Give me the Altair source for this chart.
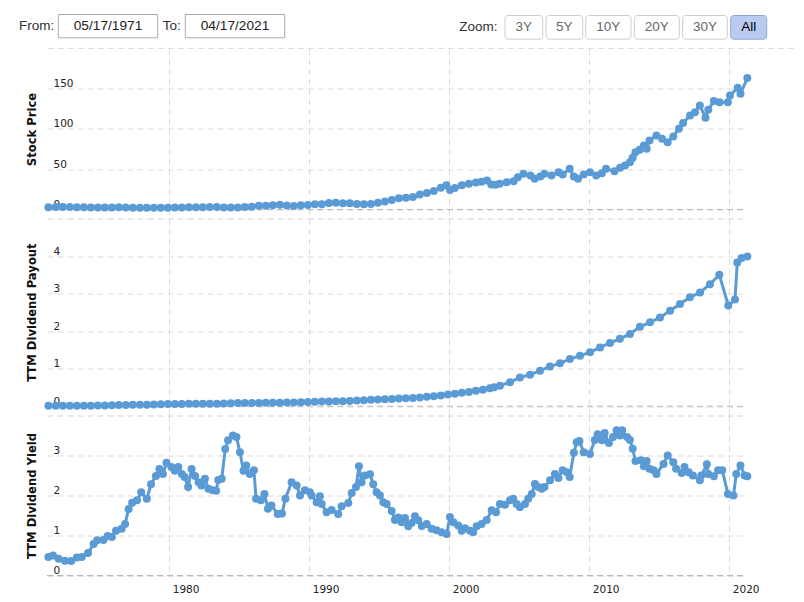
import altair as alt
import pandas as pd

# ---------------- data ----------------
PRICE_YEARS = [1971.37, 1971.9, 1972.4, 1972.9, 1973.4, 1973.9, 1974.4, 1974.9, 1975.4, 1975.9,
               1976.4, 1976.9, 1977.4, 1977.9, 1978.4, 1978.9, 1979.4, 1979.9, 1980.4, 1980.9,
               1981.4, 1981.9, 1982.4, 1982.9, 1983.4, 1983.9, 1984.4, 1984.9, 1985.4, 1985.9,
               1986.4, 1986.9, 1987.4, 1987.9, 1988.4, 1988.9, 1989.4, 1989.9, 1990.4, 1990.9,
               1991.4, 1991.9, 1992.4, 1992.9, 1993.4, 1993.9, 1994.4, 1994.9, 1995.4, 1995.9,
               1996.4, 1996.9, 1997.4, 1997.9, 1998.4, 1998.9, 1999.4, 1999.8, 2000.05, 2000.4,
               2000.9, 2001.4, 2001.9, 2002.3, 2002.7, 2003.0, 2003.3, 2003.6, 2004.1, 2004.6,
               2004.9, 2005.3, 2005.8, 2006.1, 2006.5, 2006.8, 2007.3, 2007.8, 2008.1, 2008.6,
               2008.9, 2009.2, 2009.6, 2010.05, 2010.5, 2010.9, 2011.2, 2011.8, 2012.2, 2012.55,
               2012.9, 2013.1, 2013.3, 2013.6, 2013.9, 2014.1, 2014.3, 2014.8, 2015.2, 2015.6,
               2016.0, 2016.4, 2016.7, 2017.2, 2017.55, 2017.9, 2018.3, 2018.5, 2018.9, 2019.3,
               2019.9, 2020.05, 2020.6, 2020.8, 2021.29]
PRICE = [2.9, 3.0, 3.1, 3.2, 2.9, 2.8, 2.5, 2.3, 2.4, 2.5,
         2.6, 2.3, 2.0, 2.0, 2.1, 2.1, 2.1, 2.1, 2.3, 2.4,
         2.8, 2.6, 2.8, 3.1, 3.0, 2.4, 2.4, 2.5, 3.2, 3.4,
         4.6, 4.5, 5.3, 5.9, 5.0, 4.4, 5.3, 5.5, 6.5, 6.6,
         7.9, 8.3, 7.8, 7.6, 6.9, 6.5, 6.8, 8.4, 9.9, 11.6,
         14.0, 14.6, 15.5, 18.5, 20.5, 23.0, 27.0, 30.0, 24.0, 26.5,
         30.0, 32.0, 33.5, 34.5, 36.0, 31.0, 30.5, 31.9, 33.9, 35.1,
         40.1, 44.3, 42.2, 38.1, 40.9, 44.3, 42.2, 46.3, 43.4, 50.5,
         40.9, 38.1, 43.4, 46.3, 42.2, 45.0, 50.5, 47.5, 51.7, 54.6,
         58.7, 64.1, 71.1, 74.1, 79.4, 75.3, 85.6, 91.8, 87.7, 83.5,
         90.6, 100.1, 107.1, 116.6, 120.7, 129.0, 113.8, 123.7, 134.4, 133.1,
         133.1, 141.4, 151.0, 143.5, 162.9]

PAYOUT_YEARS = [1971.37, 1971.9, 1972.4, 1972.9, 1973.4, 1973.9, 1974.4, 1974.9, 1975.4, 1975.9,
                1976.4, 1976.9, 1977.4, 1977.9, 1978.4, 1978.9, 1979.4, 1979.9, 1980.4, 1980.9,
                1981.4, 1981.9, 1982.4, 1982.9, 1983.4, 1983.9, 1984.4, 1984.9, 1985.4, 1985.9,
                1986.4, 1986.9, 1987.4, 1987.9, 1988.4, 1988.9, 1989.4, 1989.9, 1990.4, 1990.9,
                1991.4, 1991.9, 1992.4, 1992.9, 1993.4, 1993.9, 1994.4, 1994.9, 1995.4, 1995.9,
                1996.4, 1996.9, 1997.4, 1997.9, 1998.4, 1998.9, 1999.4, 1999.9, 2000.4, 2000.9,
                2001.4, 2001.9, 2002.4, 2002.9, 2003.2, 2003.62, 2004.34, 2005.05, 2005.77, 2006.48,
                2007.19, 2007.91, 2008.62, 2009.34, 2010.05, 2010.77, 2011.48, 2012.19, 2012.91, 2013.62,
                2014.34, 2015.05, 2015.77, 2016.48, 2017.19, 2017.91, 2018.62, 2019.29, 2019.93, 2020.41,
                2020.57, 2020.88, 2021.29]
PAYOUT = [0.013, 0.013, 0.014, 0.014, 0.014, 0.014, 0.015, 0.019, 0.022, 0.025,
          0.030, 0.031, 0.036, 0.039, 0.041, 0.046, 0.054, 0.058, 0.061, 0.062,
          0.064, 0.066, 0.067, 0.068, 0.069, 0.074, 0.082, 0.086, 0.086, 0.088,
          0.089, 0.091, 0.093, 0.094, 0.096, 0.102, 0.107, 0.113, 0.119, 0.123,
          0.127, 0.131, 0.136, 0.141, 0.150, 0.160, 0.170, 0.178, 0.186, 0.194,
          0.203, 0.211, 0.222, 0.236, 0.252, 0.268, 0.287, 0.310, 0.335, 0.360,
          0.38, 0.41, 0.44, 0.48, 0.51, 0.55, 0.64, 0.77, 0.84, 0.95,
          1.06, 1.15, 1.26, 1.35, 1.44, 1.57, 1.69, 1.80, 1.93, 2.12,
          2.24, 2.37, 2.55, 2.73, 2.91, 3.04, 3.26, 3.51, 2.69, 2.85,
          3.84, 3.96, 4.00]

YIELD_YEARS = [1971.37, 1971.7, 1972.1, 1972.55, 1973.0, 1973.4, 1973.75, 1974.2, 1974.6, 1974.85,
               1975.3, 1975.6, 1975.9, 1976.2, 1976.6, 1976.85, 1977.1, 1977.35, 1977.7, 1978.0,
               1978.4, 1978.7, 1979.05, 1979.3, 1979.55, 1979.8, 1980.15, 1980.4, 1980.65, 1980.9,
               1981.1, 1981.35, 1981.6, 1981.85, 1982.1, 1982.3, 1982.55, 1982.8, 1983.1, 1983.35,
               1983.5, 1983.75, 1984.0, 1984.2, 1984.55, 1984.8, 1985.05, 1985.3, 1985.5, 1985.75,
               1986.05, 1986.2, 1986.55, 1986.8, 1987.05, 1987.3, 1987.75, 1988.05, 1988.3, 1988.74,
               1989.1, 1989.34, 1989.69, 1990.05, 1990.17, 1990.53, 1990.76, 1990.89, 1991.24, 1991.6,
               1992.07, 1992.31, 1992.79, 1993.03, 1993.34, 1993.55, 1993.74, 1993.98, 1994.34, 1994.57,
               1994.81, 1995.05, 1995.29, 1995.53, 1995.89, 1996.12, 1996.36, 1996.6, 1996.84, 1997.07,
               1997.31, 1997.55, 1997.79, 1998.03, 1998.39, 1998.74, 1999.1, 1999.46, 1999.81, 2000.05,
               2000.29, 2000.64, 2000.89, 2001.12, 2001.48, 2001.71, 2001.96, 2002.31, 2002.67, 2003.03,
               2003.34, 2003.62, 2003.98, 2004.34, 2004.57, 2004.81, 2005.05, 2005.41, 2005.64, 2005.89,
               2006.12, 2006.36, 2006.6, 2006.8, 2007.2, 2007.55, 2007.8, 2008.1, 2008.4, 2008.6,
               2008.9, 2009.1, 2009.3, 2009.6, 2010.05, 2010.4, 2010.6, 2010.9, 2011.1, 2011.4,
               2011.7, 2011.95, 2012.2, 2012.35, 2012.7, 2012.9, 2013.1, 2013.3, 2013.7, 2013.9,
               2014.1, 2014.3, 2014.6, 2014.8, 2015.3, 2015.6, 2016.0, 2016.2, 2016.6, 2016.8,
               2017.1, 2017.4, 2017.9, 2018.0, 2018.4, 2018.5, 2018.9, 2019.2, 2019.5, 2019.9,
               2020.3, 2020.5, 2020.8, 2021.1, 2021.29]
YIELD = [0.46, 0.50, 0.42, 0.37, 0.36, 0.45, 0.46, 0.56, 0.79, 0.88,
         0.89, 0.99, 0.96, 1.12, 1.17, 1.29, 1.66, 1.82, 1.88, 2.08,
         1.92, 2.28, 2.49, 2.66, 2.54, 2.82, 2.71, 2.62, 2.71, 2.54,
         2.46, 2.21, 2.66, 2.49, 2.33, 2.25, 2.42, 2.17, 2.13, 2.12,
         2.39, 2.42, 3.16, 3.38, 3.50, 3.46, 3.08, 2.62, 2.75, 2.54,
         2.63, 1.92, 1.88, 2.04, 1.67, 1.75, 1.54, 1.55, 1.92, 2.33,
         2.25, 2.00, 2.13, 2.08, 2.00, 1.83, 1.98, 1.79, 1.58, 1.64,
         1.54, 1.73, 1.81, 2.06, 2.21, 2.73, 2.33, 2.50, 2.53, 2.28,
         2.08, 2.00, 1.83, 1.79, 1.61, 1.39, 1.45, 1.33, 1.44, 1.23,
         1.31, 1.48, 1.38, 1.24, 1.29, 1.17, 1.13, 1.08, 1.04, 1.46,
         1.33, 1.25, 1.12, 1.18, 1.12, 1.08, 1.23, 1.29, 1.39, 1.63,
         1.58, 1.79, 1.77, 1.88, 1.92, 1.79, 1.71, 1.79, 1.92, 2.04,
         2.29, 2.21, 2.17, 2.21, 2.38, 2.54, 2.44, 2.63, 2.58, 2.46,
         3.07, 3.33, 3.36, 3.08, 3.04, 3.39, 3.53, 3.38, 3.56, 3.31,
         3.46, 3.63, 3.50, 3.63, 3.46, 3.39, 3.17, 2.86, 2.88, 2.73,
         2.86, 2.67, 2.63, 2.54, 2.79, 3.00, 2.83, 2.67, 2.56, 2.71,
         2.58, 2.50, 2.38, 2.50, 2.78, 2.54, 2.48, 2.63, 2.63, 2.04,
         2.00, 2.54, 2.75, 2.50, 2.48]

X_TICKS = [1980, 1990, 2000, 2010, 2020]
PRICE_TICKS = [0, 50, 100, 150]
PAYOUT_TICKS = [0, 1, 2, 3, 4]
YIELD_TICKS = [0, 1, 2, 3]
FROM_LABEL, FROM_DATE = "From:", "05/17/1971"
TO_LABEL, TO_DATE = "To:", "04/17/2021"
ZOOM_LABEL = "Zoom:"
ZOOM_BUTTONS = ["3Y", "5Y", "10Y", "20Y", "30Y", "All"]

# ---------------- style / layout ----------------
BLUE = "#5b9bd5"
W = 696
X_DOMAIN = [1971.27, 2020.98]
GRID = "#dcdcdc"
ZERO = "#b8b8b8"
DASH = [6, 4]
LBL_FONT = "DejaVu Sans"
UI_FONT = "Liberation Sans"

price_df = pd.DataFrame({"year": PRICE_YEARS, "v": PRICE})
payout_df = pd.DataFrame({"year": PAYOUT_YEARS, "v": PAYOUT})
yield_df = pd.DataFrame({"year": YIELD_YEARS, "v": YIELD})


def panel(df, title, domain, ticks, height, title_y, show_x):
    x_axis = alt.Axis(values=X_TICKS, format="d", grid=True, gridColor=GRID, gridDash=DASH,
                      ticks=False, domain=True, domainColor="#d2d2d2", domainDash=DASH,
                      labels=show_x, labelAlign="left", labelOffset=3, labelBaseline="top",
                      labelPadding=8.5, labelFont=LBL_FONT, labelFontSize=10.5, labelColor="#222",
                      title=None)
    y_axis = alt.Axis(values=ticks, grid=True, gridColor=GRID, gridDash=DASH,
                      ticks=False, domain=False,
                      labelAlign="left", labelPadding=-6, labelBaseline="alphabetic", labelOffset=-2,
                      labelFont=LBL_FONT, labelFontSize=10.5, labelColor="#222",
                      title=title, titleFont=LBL_FONT, titleFontWeight="bold", titleFontSize=11.6,
                      titleColor="#111", titleAngle=270, titleX=-15, titleY=title_y,
                      titleAlign="center", titleBaseline="middle")
    xs = alt.X("year:Q", scale=alt.Scale(domain=X_DOMAIN, nice=False, zero=False), axis=x_axis)
    ys = alt.Y("v:Q", scale=alt.Scale(domain=domain, nice=False, zero=False), axis=y_axis)
    base = alt.Chart(df).encode(x=xs, y=ys)
    zero = alt.Chart(pd.DataFrame({"v": [0]})).mark_rule(
        color=ZERO, strokeDash=DASH, strokeWidth=1).encode(y="v:Q")
    line = base.mark_line(color=BLUE, strokeWidth=3)
    pts = base.mark_circle(color=BLUE, size=64, opacity=1)
    return [zero, line, pts], height


def txt(s, x, y, align="left", color="#333", size=13.5):
    return alt.Chart(pd.DataFrame({"t": [s]})).mark_text(
        align=align, baseline="middle", font=UI_FONT, fontSize=size, color=color
    ).encode(x=alt.value(x), y=alt.value(y), text="t:N")


def box(x0, x1, y0, y1, fill="white", stroke="#aaaaaa", radius=0):
    return alt.Chart(pd.DataFrame({"a": [0]})).mark_rect(
        fill=fill, stroke=stroke, strokeWidth=1, cornerRadius=radius
    ).encode(x=alt.value(x0), x2=alt.value(x1), y=alt.value(y0), y2=alt.value(y1))


# header (positions relative to top-left of first plot area)
header = [
    alt.Chart(pd.DataFrame({"a": [0]})).mark_rule(color="#dddddd", strokeDash=DASH).encode(
        x=alt.value(1), x2=alt.value(748), y=alt.value(0)),
    txt(FROM_LABEL, -28, -22.5),
    box(11.3, 110.7, -34, -10.7),
    txt(FROM_DATE, 61, -22.5, align="center", color="#222", size=13.7),
    txt(TO_LABEL, 115.7, -22.5),
    box(138.3, 237.7, -34, -10.7),
    txt(TO_DATE, 188, -22.5, align="center", color="#222", size=13.7),
    txt(ZOOM_LABEL, 412.3, -21.5),
]
BTN_X0 = [458, 499, 538.7, 587.3, 635.7, 683.7]
BTN_X1 = [495.7, 535.7, 584, 632.3, 680.3, 719.7]
for lab, a, b in zip(ZOOM_BUTTONS, BTN_X0, BTN_X1):
    sel = lab == "All"
    header.append(box(a, b, -33, -9.3, fill="#b9cbf1" if sel else "#ffffff",
                      stroke="#8ea7d8" if sel else "#cccccc", radius=3))
    header.append(txt(lab, (a + b) / 2, -21.2, align="center",
                      color="#000" if sel else "#666", size=13.5))

l1, h1 = panel(price_df, "Stock Price", [-11.2, 199.6], PRICE_TICKS, 170, 80.5, False)
l2, h2 = panel(payout_df, "TTM Dividend Payout", [-0.248, 5.015], PAYOUT_TICKS, 197, 93.6, False)
l3, h3 = panel(yield_df, "TTM Dividend Yield", [0, 4.0], YIELD_TICKS, 160, 80, True)

p1 = alt.layer(*(header + l1)).properties(width=W, height=h1)
p2 = alt.layer(*l2).properties(width=W, height=h2)
p3 = alt.layer(*l3).properties(width=W, height=h3)

chart = alt.vconcat(p1, p2, p3, spacing=0, bounds="flush").properties(
    padding={"left": 11, "top": 5.5, "right": 0, "bottom": 0}, background="white"
).configure_view(strokeWidth=0)

chart.save("out.html", embed_options={"renderer": "svg", "actions": False})
